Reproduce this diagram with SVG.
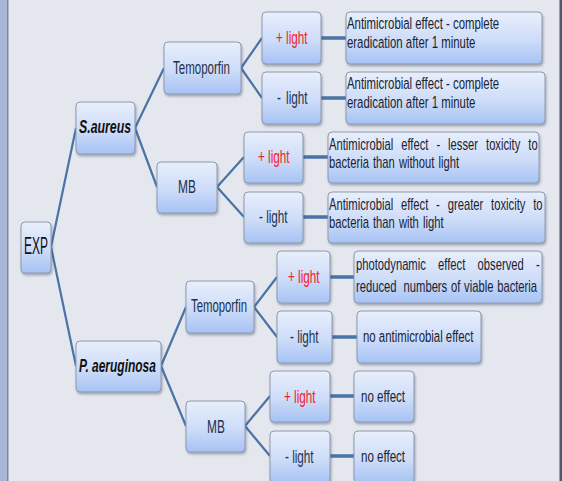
<svg xmlns="http://www.w3.org/2000/svg" width="562" height="481" viewBox="0 0 562 481">
<defs>
<linearGradient id="bx" x1="0" y1="0" x2="0" y2="1">
<stop offset="0" stop-color="#e8effc"/>
<stop offset="0.55" stop-color="#cddcf8"/>
<stop offset="1" stop-color="#a6c2f4"/>
</linearGradient>
<filter id="sh" x="-10%" y="-10%" width="125%" height="135%">
<feDropShadow dx="1" dy="2" stdDeviation="1.3" flood-color="#3a4560" flood-opacity="0.4"/>
</filter>
<style>
.box{fill:url(#bx);stroke:#8e99ad;stroke-width:1;filter:url(#sh)}
.c{stroke:#4a73a6;stroke-width:2.2;fill:none}
.h{stroke:#4a73a6;stroke-width:3.5;fill:none}
text{font-family:"Liberation Sans",Arial,sans-serif}
.l{font-size:18px;fill:#22324b}
.red{font-size:18px;fill:#f5202a}
.sp{font-size:19px;fill:#111;font-weight:bold;font-style:italic}
.exp{font-size:24px;fill:#111}
.r{font-size:17px;fill:#1b2332}
</style>
</defs>
<rect x="0" y="0" width="562" height="481" fill="#e4e7ee"/>
<rect x="0" y="0" width="7" height="481" fill="#a9b7d6"/>
<rect x="7" y="0" width="1.5" height="481" fill="#7c89a6"/>
<rect x="559.5" y="0" width="2.5" height="481" fill="#4b586e"/>

<g id="connectors">
<path class="c" d="M51,247 L76,128 M51,247 L76,366"/>
<path class="c" d="M135,128 L164,68 M135,128 L157,187"/>
<path class="c" d="M241,68 L262,38 M241,68 L262,98"/>
<path class="c" d="M217,187 L244,157 M217,187 L244,217"/>
<path class="c" d="M161,366 L186,307 M161,366 L186,426"/>
<path class="c" d="M254,307 L277,277 M254,307 L277,337"/>
<path class="c" d="M245,426 L270,396 M245,426 L270,456"/>
<path class="h" d="M321,38 H346 M321,98 H346 M303,157 H328 M303,217 H328 M330,277 H354 M332,337 H357 M330,396 H354 M330,456 H354"/>
</g>

<g id="exp"><rect class="box" x="21" y="222" width="30" height="51" rx="4"/><text class="exp" transform="translate(24 254) scale(0.5 1)">EXP</text></g>

<g id="saureus"><rect class="box" x="76" y="102" width="59" height="52" rx="4"/><text class="sp" transform="translate(79 133) scale(0.65 1)">S.aureus</text></g>
<g id="temo1"><rect class="box" x="164" y="42" width="77" height="52" rx="4"/><text class="l" transform="translate(173 74) scale(0.64 1)">Temoporfin</text></g>
<g id="mb1"><rect class="box" x="157" y="162" width="60" height="51" rx="4"/><text class="l" transform="translate(178 193) scale(0.66 1)">MB</text></g>

<g id="t1plus"><rect class="box" x="262" y="12" width="59" height="52" rx="4"/><text class="red" transform="translate(276 44) scale(0.65 1)">+ light</text></g>
<g id="t1minus"><rect class="box" x="262" y="72" width="59" height="52" rx="4"/><text class="l" transform="translate(277 104) scale(0.65 1)" word-spacing="3">- light</text></g>
<g id="m1plus"><rect class="box" x="244" y="132" width="59" height="51" rx="4"/><text class="red" transform="translate(258 163) scale(0.65 1)">+ light</text></g>
<g id="m1minus"><rect class="box" x="244" y="192" width="59" height="51" rx="4"/><text class="l" transform="translate(259 223) scale(0.65 1)">- light</text></g>

<g id="res1"><rect class="box" x="346" y="12" width="196" height="52" rx="4"/>
<text class="r" transform="translate(347 29) scale(0.67 1)">Antimicrobial effect - complete</text>
<text class="r" transform="translate(347 48) scale(0.67 1)">eradication after 1 minute</text></g>
<g id="res2"><rect class="box" x="346" y="72" width="199" height="52" rx="4"/>
<text class="r" transform="translate(347 89) scale(0.67 1)">Antimicrobial effect - complete</text>
<text class="r" transform="translate(347 108) scale(0.67 1)">eradication after 1 minute</text></g>
<g id="res3"><rect class="box" x="328" y="132" width="211" height="51" rx="4"/>
<text class="r" transform="translate(329 150) scale(0.66 1)" word-spacing="7.4">Antimicrobial effect - lesser toxicity to</text>
<text class="r" transform="translate(329 168) scale(0.66 1)" word-spacing="1.5">bacteria than without light</text></g>
<g id="res4"><rect class="box" x="328" y="192" width="217" height="51" rx="4"/>
<text class="r" transform="translate(329 210) scale(0.66 1)" word-spacing="7.2">Antimicrobial effect - greater toxicity to</text>
<text class="r" transform="translate(329 228) scale(0.66 1)" word-spacing="1.5">bacteria than with light</text></g>

<g id="paer"><rect class="box" x="76" y="341" width="85" height="51" rx="4"/><text class="sp" transform="translate(79 372) scale(0.63 1)">P. aeruginosa</text></g>
<g id="temo2"><rect class="box" x="186" y="281" width="68" height="52" rx="4"/><text class="l" transform="translate(191 312) scale(0.63 1)">Temoporfin</text></g>
<g id="mb2"><rect class="box" x="186" y="401" width="59" height="51" rx="4"/><text class="l" transform="translate(207 433) scale(0.66 1)">MB</text></g>

<g id="t2plus"><rect class="box" x="277" y="251" width="53" height="52" rx="4"/><text class="red" transform="translate(288 283) scale(0.65 1)">+ light</text></g>
<g id="t2minus"><rect class="box" x="277" y="311" width="55" height="52" rx="4"/><text class="l" transform="translate(290 343) scale(0.65 1)">- light</text></g>
<g id="m2plus"><rect class="box" x="270" y="371" width="60" height="51" rx="4"/><text class="red" transform="translate(284 403) scale(0.65 1)">+ light</text></g>
<g id="m2minus"><rect class="box" x="270" y="431" width="60" height="52" rx="4"/><text class="l" transform="translate(285 463) scale(0.65 1)">- light</text></g>

<g id="res5"><rect class="box" x="354" y="251" width="188" height="52" rx="4"/>
<text class="r" transform="translate(356 270) scale(0.66 1)" word-spacing="13.9">photodynamic effect observed -</text>
<text class="r" transform="translate(356 292) scale(0.66 1)" word-spacing="1">reduced <tspan dx="5">numbers of viable bacteria</tspan></text></g>
<g id="res6"><rect class="box" x="357" y="311" width="124" height="52" rx="4"/><text class="r" transform="translate(363 342) scale(0.67 1)">no antimicrobial effect</text></g>
<g id="res7"><rect class="box" x="354" y="371" width="60" height="51" rx="4"/><text class="r" transform="translate(361 402) scale(0.68 1)">no effect</text></g>
<g id="res8"><rect class="box" x="354" y="431" width="60" height="52" rx="4"/><text class="r" transform="translate(361 462) scale(0.68 1)">no effect</text></g>
</svg>
